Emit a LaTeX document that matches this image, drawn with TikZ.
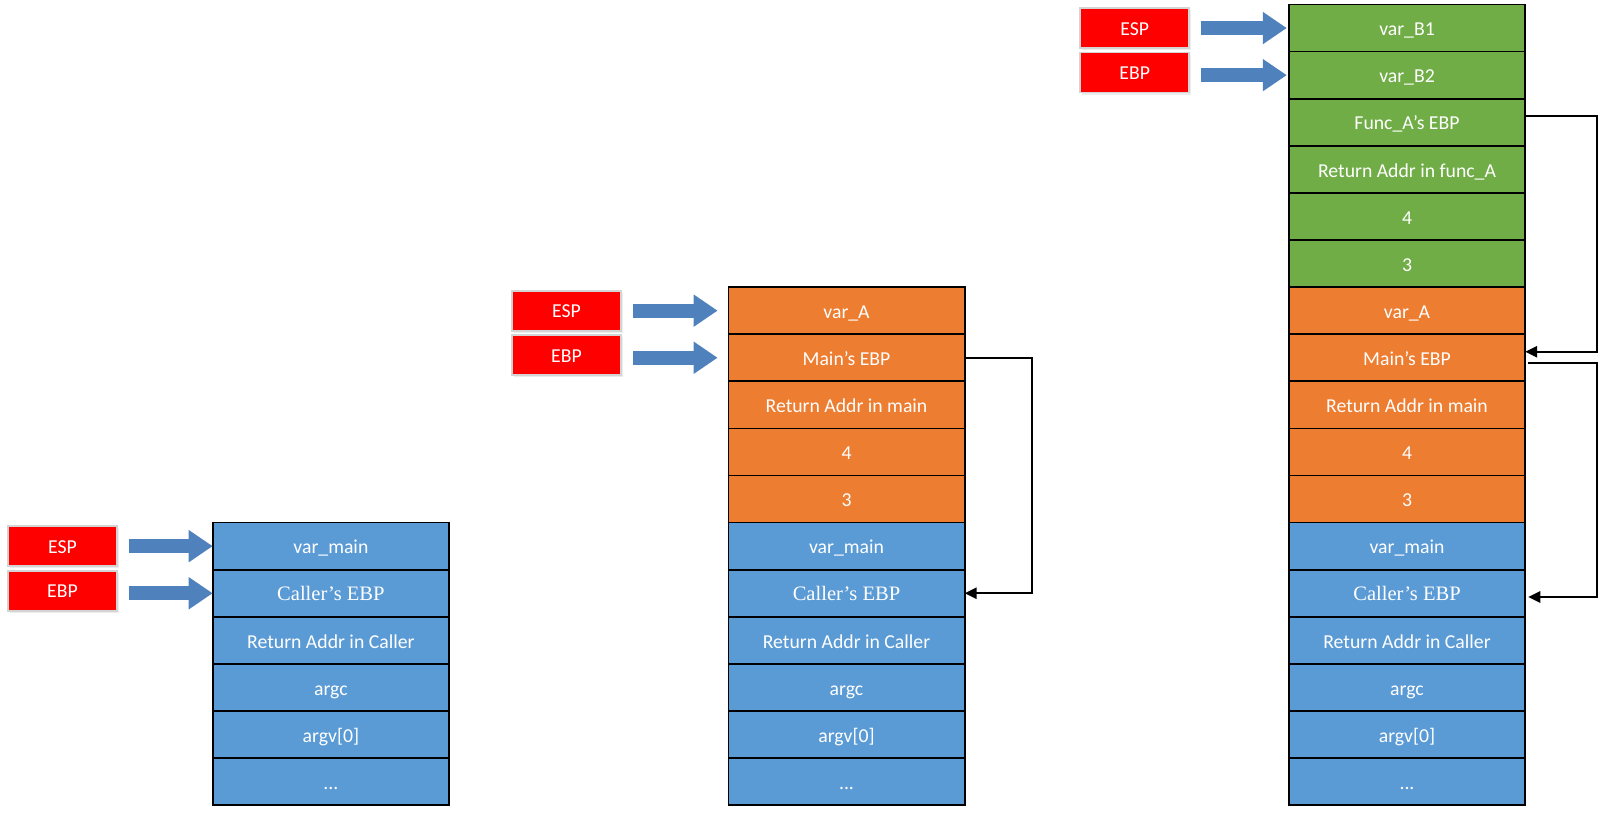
\documentclass[tikz,border=0pt]{standalone}
\usepackage{fontspec}
\setmainfont{Carlito}
\newfontfamily\timesfont{Liberation Serif}
\usepackage{xcolor}
\usepackage{tikz}
\usetikzlibrary{arrows.meta,shadows}
\definecolor{rowblue}{HTML}{5B9BD5}
\definecolor{roworange}{HTML}{ED7D31}
\definecolor{rowgreen}{HTML}{70AD47}
\definecolor{regred}{HTML}{FF0000}
\definecolor{regedge}{HTML}{D4D4D4}
\definecolor{ptrblue}{HTML}{4F81BD}
\newcommand{\serifcell}{\timesfont\fontsize{15.4}{18}\selectfont}
\tikzset{
  cell/.style={draw=black, line width=1.2pt, text=white, minimum width=177.3pt, minimum height=35.3pt,
    inner sep=0pt, outer sep=0pt, text height=12.5pt, text depth=1pt, font=\fontsize{14.8}{17}\selectfont},
  bluecell/.style={cell, fill=rowblue},
  orangecell/.style={cell, fill=roworange},
  greencell/.style={cell, fill=rowgreen},
  reg/.style={fill=regred, draw=regedge, line width=1.4pt, text=white, minimum width=82pt, minimum height=30pt,
    inner sep=0pt, outer sep=0pt, text height=12pt, text depth=1.5pt, font=\fontsize{14.8}{17}\selectfont,
    drop shadow={opacity=0.15, shadow xshift=1.5pt, shadow yshift=-1.5pt}},
  ptr/.style={draw=ptrblue, line width=10.5pt, -{Triangle[length=18pt,width=23pt]}},
  link/.style={draw=black, line width=1.5pt, -{Triangle[length=9pt,width=8.5pt]}}
}
\begin{document}
\begin{tikzpicture}[x=0.75pt,y=-0.75pt]
\useasboundingbox (0,0) rectangle (1615,821);
\node [bluecell] (lVarMain) at (330.9,546.15) {var\_main};
\node [bluecell] (lCallerEBP) at (330.9,593.25) {\serifcell Caller’s EBP};
\node [bluecell] (lRetCaller) at (330.9,640.35) {Return Addr in Caller};
\node [bluecell] (lArgc) at (330.9,687.45) {argc};
\node [bluecell] (lArgv) at (330.9,734.55) {argv[0]};
\node [bluecell] (lDots) at (330.9,781.65) {...};
\node [reg] (lEsp) at (62.5,546.15) {ESP};
\node [reg] (lEbp) at (62.5,590.65) {EBP};
\draw [ptr, shorten <=9pt] (lEsp.east |- lVarMain) -- (lVarMain.west);
\draw [ptr, shorten <=9pt] (lEbp.east |- lCallerEBP) -- (lCallerEBP.west);

\node [orangecell] (mVarA) at (846.5,310.65) {var\_A};
\node [orangecell] (mMainEBP) at (846.5,357.75) {Main’s EBP};
\node [orangecell] (mRetMain) at (846.5,404.85) {Return Addr in main};
\node [orangecell] (mFour) at (846.5,451.95) {4};
\node [orangecell] (mThree) at (846.5,499.05) {3};
\node [bluecell] (mVarMain) at (846.5,546.15) {var\_main};
\node [bluecell] (mCallerEBP) at (846.5,593.25) {\serifcell Caller’s EBP};
\node [bluecell] (mRetCaller) at (846.5,640.35) {Return Addr in Caller};
\node [bluecell] (mArgc) at (846.5,687.45) {argc};
\node [bluecell] (mArgv) at (846.5,734.55) {argv[0]};
\node [bluecell] (mDots) at (846.5,781.65) {...};
\node [reg] (mEsp) at (566.5,310.65) {ESP};
\node [reg] (mEbp) at (566.5,355.15) {EBP};
\draw [ptr, shorten <=9pt, shorten >=8pt] (mEsp.east |- mVarA) -- (mVarA.west);
\draw [ptr, shorten <=9pt, shorten >=8pt] (mEbp.east |- mMainEBP) -- (mMainEBP.west);
\draw [link] (mMainEBP.east) -- ++(67,0) |- (mCallerEBP.east);

\node [greencell] (rVarB1) at (1407,28.05) {var\_B1};
\node [greencell] (rVarB2) at (1407,75.15) {var\_B2};
\node [greencell] (rFuncEBP) at (1407,122.25) {Func\_A’s EBP};
\node [greencell] (rRetFunc) at (1407,169.35) {Return Addr in func\_A};
\node [greencell] (rFourB) at (1407,216.45) {4};
\node [greencell] (rThreeB) at (1407,263.55) {3};
\node [orangecell] (rVarA) at (1407,310.65) {var\_A};
\node [orangecell] (rMainEBP) at (1407,357.75) {Main’s EBP};
\node [orangecell] (rRetMain) at (1407,404.85) {Return Addr in main};
\node [orangecell] (rFour) at (1407,451.95) {4};
\node [orangecell] (rThree) at (1407,499.05) {3};
\node [bluecell] (rVarMain) at (1407,546.15) {var\_main};
\node [bluecell] (rCallerEBP) at (1407,593.25) {\serifcell Caller’s EBP};
\node [bluecell] (rRetCaller) at (1407,640.35) {Return Addr in Caller};
\node [bluecell] (rArgc) at (1407,687.45) {argc};
\node [bluecell] (rArgv) at (1407,734.55) {argv[0]};
\node [bluecell] (rDots) at (1407,781.65) {...};
\node [reg] (rEsp) at (1134.7,28.05) {ESP};
\node [reg] (rEbp) at (1134.7,72.55) {EBP};
\draw [ptr, shorten <=8.5pt, shorten >=1.5pt] (rEsp.east |- rVarB1) -- (rVarB1.west);
\draw [ptr, shorten <=8.5pt, shorten >=1.5pt] (rEbp.east |- rVarB2) -- (rVarB2.west);
\draw [link] ([yshift=5pt]rFuncEBP.east) -- ++(72,0) |- ([yshift=4.5pt]rMainEBP.east);
\draw [link] ([xshift=2pt,yshift=-3.7pt]rMainEBP.east) -- ++(69.3,0) |- ([xshift=2.3pt,yshift=-2.8pt]rCallerEBP.east);
\end{tikzpicture}
\end{document}
